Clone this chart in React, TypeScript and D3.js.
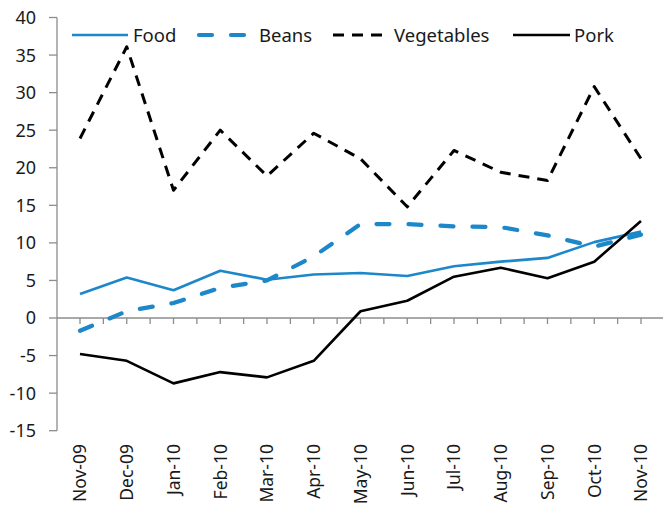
import React from "react";
import * as d3 from "d3";

const categories = ["Nov-09","Dec-09","Jan-10","Feb-10","Mar-10","Apr-10","May-10","Jun-10","Jul-10","Aug-10","Sep-10","Oct-10","Nov-10"];
const food = [3.2, 5.4, 3.7, 6.3, 5.1, 5.8, 6.0, 5.6, 6.9, 7.5, 8.0, 10.1, 11.5];
const beans = [-1.7, 0.9, 2.0, 4.0, 5.0, 8.2, 12.5, 12.5, 12.2, 12.1, 11.0, 9.5, 11.1];
const vegetables = [23.9, 36.1, 17.0, 25.0, 18.9, 24.6, 21.2, 14.8, 22.3, 19.4, 18.3, 30.8, 21.2];
const pork = [-4.8, -5.7, -8.7, -7.2, -7.9, -5.7, 0.9, 2.3, 5.5, 6.7, 5.3, 7.5, 12.9];
const yTicks = [40, 35, 30, 25, 20, 15, 10, 5, 0, -5, -10, -15];
const seriesNames = ["Food", "Beans", "Vegetables", "Pork"];

const BLUE = "#1C87C9";
const AXIS = "#8C8C8C";
const TEXT = "#1a1a1a";
const FONT = "'Noto Sans', sans-serif";

export default function App() {
  const W = 663, H = 511;
  const x = d3.scalePoint<string>().domain(categories).range([80, 641]);
  const y = d3.scaleLinear().domain([-15, 40]).range([430.7, 17.5]);
  const step = x.step();
  const axisLeft = 57;

  const line = d3.line<number>()
    .x((_, i) => x(categories[i]) as number)
    .y((v) => y(v));

  const series = [
    { name: seriesNames[0], data: food, color: BLUE, width: 2.6, dash: undefined, cap: "butt" },
    { name: seriesNames[1], data: beans, color: BLUE, width: 4.2, dash: "13,19", cap: "round" },
    { name: seriesNames[2], data: vegetables, color: "#000", width: 3, dash: "11,8", cap: "butt" },
    { name: seriesNames[3], data: pork, color: "#000", width: 2.6, dash: undefined, cap: "butt" },
  ];

  const xTickPositions: number[] = [];
  for (let k = 0; k <= 25; k++) {
    const px = (x(categories[0]) as number) + (k * step) / 2;
    if (px <= W) xTickPositions.push(px);
  }

  const legendItems = [
    { x1: 72, x2: 128, tx: 133 },
    { x1: 199, x2: 250, tx: 259 },
    { x1: 333, x2: 389, tx: 394 },
    { x1: 513, x2: 570, tx: 574 },
  ];

  return (
    <svg width={W} height={H} style={{ position: "absolute", left: 0, top: 0, background: "#fff" }}
      fontFamily={FONT}>
      <rect x={0} y={0} width={W} height={H} fill="#fff" />
      {/* y axis */}
      <line x1={axisLeft} x2={axisLeft} y1={y(40)} y2={y(-15)} stroke={AXIS} strokeWidth={1.3} />
      {yTicks.map((t) => (
        <g key={t}>
          <line x1={axisLeft - 8} x2={axisLeft} y1={y(t)} y2={y(t)} stroke={AXIS} strokeWidth={1.3} />
          <text x={36} y={y(t)} dy="0.36em" textAnchor="end" fontSize={18} fill={TEXT}>{t}</text>
        </g>
      ))}
      {/* x axis at zero */}
      <line x1={axisLeft} x2={W} y1={y(0)} y2={y(0)} stroke={AXIS} strokeWidth={1.3} />
      {xTickPositions.map((px, i) => (
        <line key={i} x1={px} x2={px} y1={y(0)} y2={y(0) + 6} stroke={AXIS} strokeWidth={1.3} />
      ))}
      {categories.map((c) => (
        <text key={c} transform={`translate(${x(c)},444) rotate(-90)`} textAnchor="end" dy="0.36em"
          fontSize={17.5} fill={TEXT}>{c}</text>
      ))}
      {/* series */}
      {series.map((s) => (
        <path key={s.name} d={line(s.data) || ""} fill="none" stroke={s.color} strokeWidth={s.width}
          strokeDasharray={s.dash} strokeLinecap={s.cap as any} strokeLinejoin="round" />
      ))}
      {/* legend */}
      {series.map((s, i) => (
        <g key={"lg" + s.name}>
          <line x1={legendItems[i].x1} x2={legendItems[i].x2} y1={35} y2={35} stroke={s.color}
            strokeWidth={s.width} strokeDasharray={s.dash} strokeLinecap={s.cap as any} />
          <text x={legendItems[i].tx} y={35} dy="0.36em" fontSize={18.5} fill={TEXT}>{s.name}</text>
        </g>
      ))}
    </svg>
  );
}
